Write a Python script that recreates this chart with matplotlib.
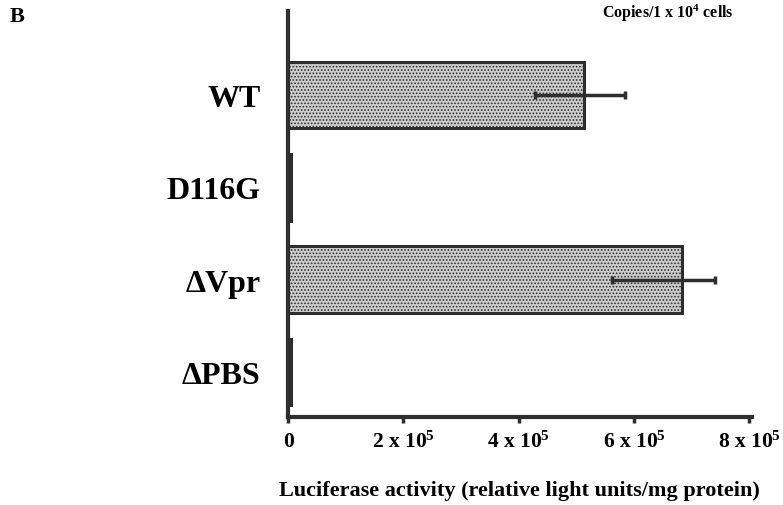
import numpy as np
import matplotlib.pyplot as plt

# data (luciferase activity, RLU/mg protein)
strains = ["WT", "D116G", "\u0394Vpr", "\u0394PBS"]
activity = [5.14e5, 0.05e5, 6.84e5, 0.05e5]
err_low = [0.86e5, 0.0, 1.23e5, 0.0]
err_high = [0.70e5, 0.0, 0.57e5, 0.0]
tick_vals = [0, 2e5, 4e5, 6e5, 8e5]
tick_labels = ["0", "2 x 10$^{5}$", "4 x 10$^{5}$", "6 x 10$^{5}$", "8 x 10$^{5}$"]

plt.rcParams['font.family'] = ['Liberation Serif', 'DejaVu Serif']
plt.rcParams['mathtext.fontset'] = 'custom'
plt.rcParams['mathtext.rm'] = 'Liberation Serif:bold'
plt.rcParams['mathtext.it'] = 'Liberation Serif:bold'
plt.rcParams['mathtext.bf'] = 'Liberation Serif:bold'
plt.rcParams['hatch.color'] = '#8a8a8a'
plt.rcParams['hatch.linewidth'] = 0.8

dark = '#2e2e2e'
fig = plt.figure(figsize=(7.83, 5.06), dpi=100)
ax = fig.add_axes([0.368, 0.174, 0.592, 0.802])

ypos = np.arange(len(strains))[::-1]
ax.barh(ypos, activity, height=0.72, color='#cdcdcd', edgecolor=dark,
        linewidth=2.2, hatch='.....', zorder=2)
has_err = [i for i in range(len(strains)) if err_low[i] > 0]
ax.errorbar([activity[i] for i in has_err], ypos[has_err],
            xerr=[[err_low[i] for i in has_err], [err_high[i] for i in has_err]],
            fmt='none', ecolor=dark, elinewidth=2.5, capsize=3, capthick=2.5, zorder=3)

ax.set_xlim(0, 8.04e5)
ax.set_ylim(-0.49, 3.91)
ax.set_yticks(ypos)
ax.set_yticklabels(strains, fontsize=23, fontweight='bold')
ax.tick_params(axis='y', length=0, pad=20)
ax.set_xticks(tick_vals)
ax.set_xticklabels(tick_labels, fontsize=15.5, fontweight='bold')
ax.tick_params(axis='x', length=4, width=2.5, color=dark, pad=6)
for s in ['top', 'right']:
    ax.spines[s].set_visible(False)
for s in ['left', 'bottom']:
    ax.spines[s].set_linewidth(3)
    ax.spines[s].set_color(dark)
ax.set_xlabel("Luciferase activity (relative light units/mg protein)",
              fontsize=16, fontweight='bold', labelpad=20)

fig.text(0.012, 0.966, "B", fontsize=16, fontweight='bold', va='center')
fig.text(0.769, 0.974, "Copies/1 x 10$^{4}$ cells", fontsize=11.5, fontweight='bold', va='center')

fig.savefig("out.png", dpi=100)
